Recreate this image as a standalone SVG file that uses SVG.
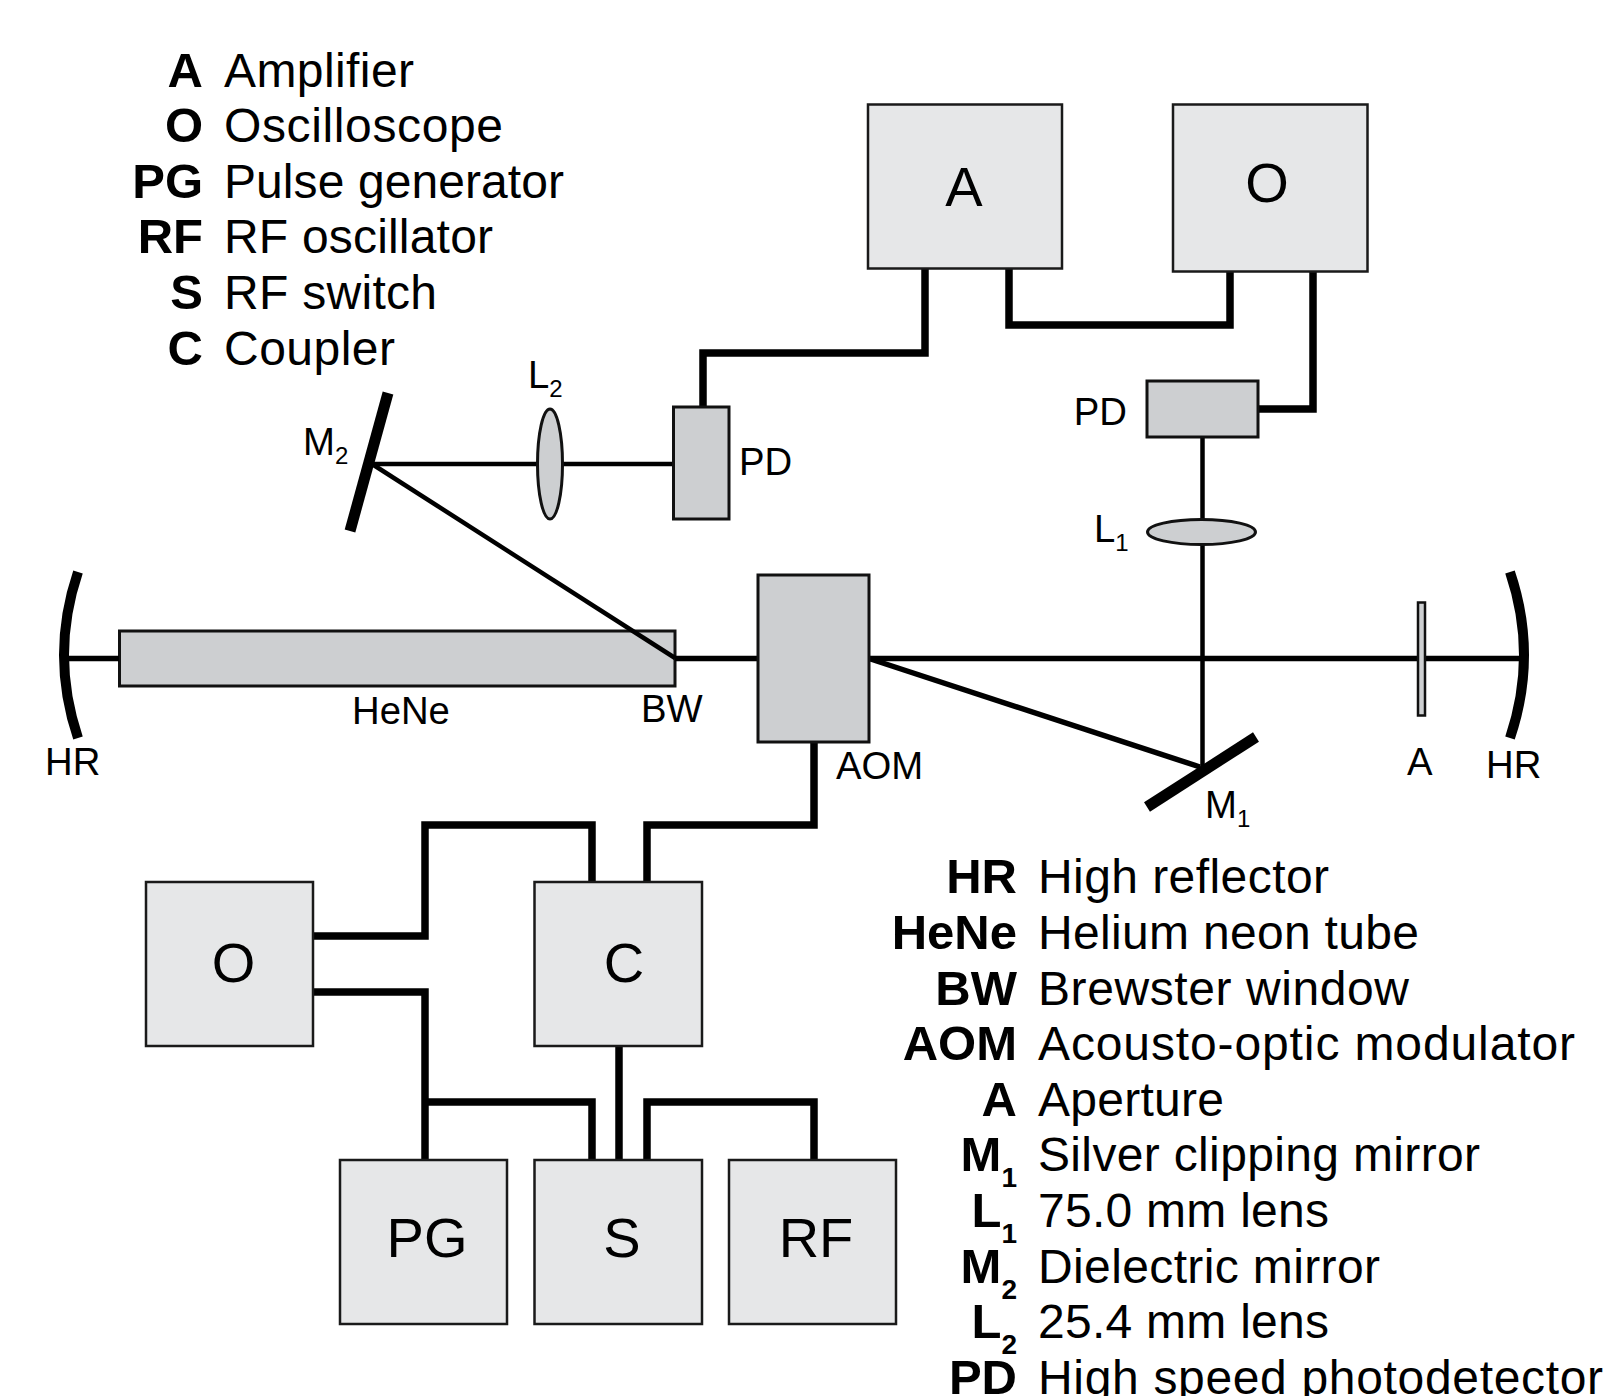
<svg xmlns="http://www.w3.org/2000/svg" width="1605" height="1396" viewBox="0 0 1605 1396">
<style>
text{font-family:"Liberation Sans",Arial,sans-serif;fill:#000}
.lg{font-size:48px}
.b{font-weight:bold;text-anchor:end;font-size:49px}
.s{font-size:28px}
.lb{font-size:38.300px}
.n{font-size:56px;text-anchor:middle}
.bx{fill:#e6e7e8;stroke:#1a1a1a;stroke-width:2.5}
.op{fill:#cdcfd1;stroke:#111;stroke-width:3}
.w{fill:none;stroke:#000;stroke-width:7.500;stroke-linejoin:miter}
.bm{fill:none;stroke:#000;stroke-width:4.500}
.bt{fill:none;stroke:#000;stroke-width:5.500}
.mr{fill:none;stroke:#000;stroke-width:11}
.hr{fill:none;stroke:#000;stroke-width:10}
</style>
<rect width="1605" height="1396" fill="#fff"/>
<g id="node-HeNe"><rect class="op" x="119.500" y="631" width="555.500" height="55"/><text class="lb" x="352" y="724">HeNe</text></g>
<g id="connectors">
<path class="w" d="M925 268V353H703V407"/>
<path class="w" d="M1009 268V325H1230V271"/>
<path class="w" d="M1313 271V409H1257"/>
<path class="w" d="M814 742V825H647V882"/>
<path class="w" d="M313 936H425V825H592V882"/>
<path class="w" d="M313 992H425V1160"/>
<path class="w" d="M425 1102H592V1160"/>
<path class="w" d="M619 1046V1160"/>
<path class="w" d="M647 1160V1102H814V1160"/>
<path class="bm" d="M372 464H673"/>
<path class="bm" d="M372 464L675 658"/>
<path class="bt" d="M64 658.500H119"/>
<path class="bt" d="M675 658.500H758"/>
<path class="bt" d="M869 658.500H1520"/>
<path class="bm" d="M1202.500 437V767"/>
<path class="bt" d="M869 658.500L1200 767"/>
</g>
<g id="node-A"><rect class="bx" x="868" y="104.500" width="194" height="164"/><text class="n" x="964" y="206">A</text></g>
<g id="node-O1"><rect class="bx" x="1173" y="104.500" width="194.500" height="167"/><text class="n" x="1267" y="202">O</text></g>
<g id="node-PD1"><rect class="op" x="1147" y="381" width="111" height="56"/><text class="lb" x="1127" y="425" text-anchor="end">PD</text></g>
<g id="node-L1"><ellipse class="op" cx="1201.500" cy="532" rx="54" ry="12.500"/><text class="lb" x="1094" y="542">L<tspan font-size="24" dy="9">1</tspan></text></g>
<g id="node-M1"><path class="mr" d="M1256 737L1147 807"/><text class="lb" x="1205" y="818">M<tspan font-size="24" dy="9">1</tspan></text></g>
<g id="node-Aperture"><rect class="op" style="stroke-width:2.500" x="1418" y="602.500" width="7" height="113"/><text class="lb" x="1407" y="775">A</text></g>
<g id="node-HR2"><path class="hr" d="M1510 572Q1538 655 1510 738"/><text class="lb" x="1486" y="778">HR</text></g>
<g id="node-HR1"><path class="hr" d="M78 572Q50 655 78 738"/><text class="lb" x="45" y="775">HR</text></g>
<g id="node-BW"><text class="lb" x="641" y="722">BW</text></g>
<g id="node-AOM"><rect class="op" x="758" y="575" width="111" height="167"/><text class="lb" x="836" y="779">AOM</text></g>
<g id="node-M2"><path class="mr" d="M388 393L350 531"/><text class="lb" x="303" y="455">M<tspan font-size="24" dy="9">2</tspan></text></g>
<g id="node-L2"><ellipse class="op" cx="550" cy="464" rx="12.500" ry="55"/><text class="lb" x="528" y="388">L<tspan font-size="24" dy="9">2</tspan></text></g>
<g id="node-PD2"><rect class="op" x="673.500" y="407" width="55.500" height="112"/><text class="lb" x="739" y="475">PD</text></g>
<g id="node-O2"><rect class="bx" x="146" y="882" width="167" height="164"/><text class="n" x="233.500" y="982">O</text></g>
<g id="node-C"><rect class="bx" x="534.500" y="882" width="167.500" height="164"/><text class="n" x="624" y="982">C</text></g>
<g id="node-PG"><rect class="bx" x="340" y="1160" width="167" height="164"/><text class="n" x="427" y="1257">PG</text></g>
<g id="node-S"><rect class="bx" x="534.500" y="1160" width="167.500" height="164"/><text class="n" x="622" y="1257">S</text></g>
<g id="node-RF"><rect class="bx" x="729" y="1160" width="167" height="164"/><text class="n" x="816" y="1257">RF</text></g>
<g id="legend-top">
<text class="lg b" x="203" y="87">A</text><text class="lg" x="224" y="87" textLength="190">Amplifier</text>
<text class="lg b" x="203" y="142">O</text><text class="lg" x="224" y="142" textLength="279">Oscilloscope</text>
<text class="lg b" x="203" y="198">PG</text><text class="lg" x="224" y="198" textLength="340">Pulse generator</text>
<text class="lg b" x="203" y="253">RF</text><text class="lg" x="224" y="253" textLength="269">RF oscillator</text>
<text class="lg b" x="203" y="309">S</text><text class="lg" x="224" y="309" textLength="213">RF switch</text>
<text class="lg b" x="203" y="365">C</text><text class="lg" x="224" y="365" textLength="171">Coupler</text>
</g>
<g id="legend-bottom">
<text class="lg b" x="1017" y="893">HR</text><text class="lg" x="1038" y="893" textLength="291">High reflector</text>
<text class="lg b" x="1017" y="949">HeNe</text><text class="lg" x="1038" y="949" textLength="381">Helium neon tube</text>
<text class="lg b" x="1017" y="1005">BW</text><text class="lg" x="1038" y="1005" textLength="371">Brewster window</text>
<text class="lg b" x="1017" y="1060">AOM</text><text class="lg" x="1038" y="1060" textLength="537">Acousto-optic modulator</text>
<text class="lg b" x="1017" y="1116">A</text><text class="lg" x="1038" y="1116" textLength="186">Aperture</text>
<text class="lg b" x="1017" y="1171">M<tspan class="s" dy="16">1</tspan></text><text class="lg" x="1038" y="1171" textLength="442">Silver clipping mirror</text>
<text class="lg b" x="1017" y="1227">L<tspan class="s" dy="16">1</tspan></text><text class="lg" x="1038" y="1227" textLength="291">75.0 mm lens</text>
<text class="lg b" x="1017" y="1283">M<tspan class="s" dy="16">2</tspan></text><text class="lg" x="1038" y="1283" textLength="342">Dielectric mirror</text>
<text class="lg b" x="1017" y="1338">L<tspan class="s" dy="16">2</tspan></text><text class="lg" x="1038" y="1338" textLength="291">25.4 mm lens</text>
<text class="lg b" x="1017" y="1394">PD</text><text class="lg" x="1038" y="1394" textLength="565">High speed photodetector</text>
</g>
</svg>
